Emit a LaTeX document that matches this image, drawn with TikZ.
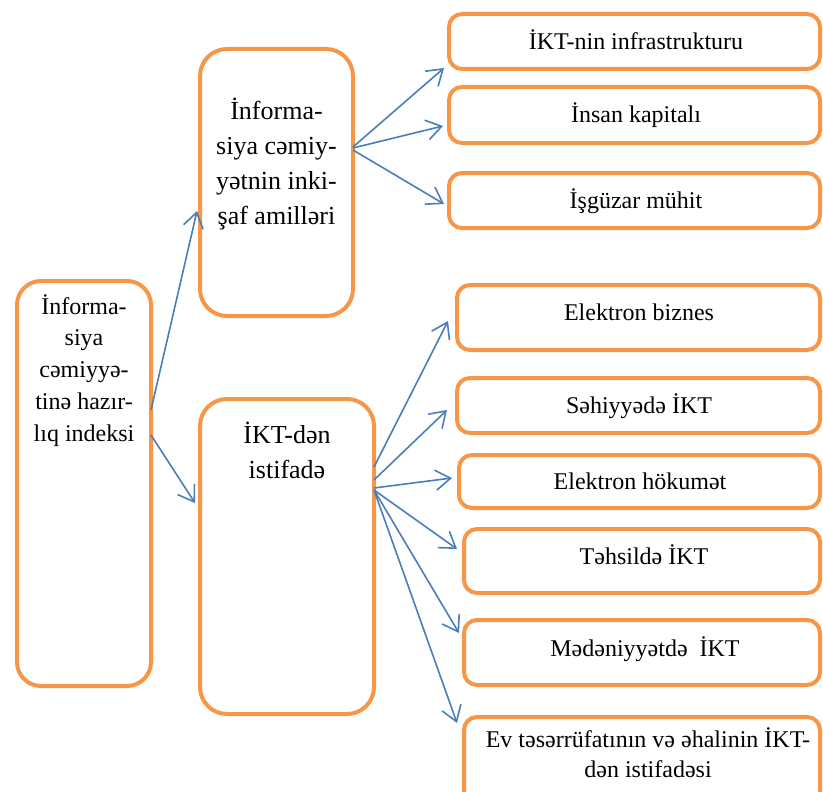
\documentclass[tikz,border=0pt]{standalone}
\usepackage{fontspec}
\setmainfont{Liberation Serif}
\usetikzlibrary{arrows.meta,calc}
\definecolor{boxorange}{HTML}{F79646}
\definecolor{arrowblue}{HTML}{4A7EBB}
\begin{document}
\begin{tikzpicture}[x=1pt,y=-1pt,
  rbox/.style={draw=boxorange, line width=4pt, fill=white, inner sep=0pt, outer sep=0pt},
  lbl/.style={inner sep=0pt, anchor=base, font=\fontsize{24}{28}\selectfont},
  mlbl/.style={inner sep=0pt, anchor=base, font=\fontsize{26}{30}\selectfont},
  conn/.style={draw=arrowblue, line width=1.6pt, -{Straight Barb[length=15pt,width=20pt]}}]
\useasboundingbox (0,0) rectangle (823,792);
\clip (0,0) rectangle (823,792);
% boxes
\node[rbox, rounded corners=24pt, minimum width=134pt, minimum height=405pt] (L) at (84,483.5) {};
\node[rbox, rounded corners=27pt, minimum width=153pt, minimum height=267pt] (B2) at (276.5,182.5) {};
\node[rbox, rounded corners=27pt, minimum width=174pt, minimum height=315pt] (B3) at (287,556.5) {};
\node[rbox, rounded corners=13pt, minimum width=371pt, minimum height=55pt] (A) at (634.5,41.5) {};
\node[rbox, rounded corners=13pt, minimum width=371pt, minimum height=56pt] (B) at (634.5,115) {};
\node[rbox, rounded corners=13pt, minimum width=371pt, minimum height=55pt] (C) at (634.5,200.5) {};
\node[rbox, rounded corners=13pt, minimum width=363pt, minimum height=65pt] (D) at (638.5,317.5) {};
\node[rbox, rounded corners=13pt, minimum width=363pt, minimum height=55pt] (E) at (638.5,405.5) {};
\node[rbox, rounded corners=13pt, minimum width=361pt, minimum height=53pt] (F) at (639.5,481.5) {};
\node[rbox, rounded corners=13pt, minimum width=356pt, minimum height=64pt] (G) at (642,561) {};
\node[rbox, rounded corners=13pt, minimum width=356pt, minimum height=65pt] (H) at (642,652.5) {};
\node[rbox, rounded corners=13pt, minimum width=356pt, minimum height=93pt] (I) at (642,763.5) {};
% texts
\foreach \t [count=\i from 0] in {İnforma-,siya,cəmiyyə-,tinə hazır-,lıq indeksi}
  \node[lbl] (Lt\i) at (84,314+31.8*\i) {\t};
\foreach \t [count=\i from 0] in {İnforma-,siya cəmiy-,yətnin inki-,şaf amilləri}
  \node[mlbl] (B2t\i) at (276.5,119.5+34.9*\i) {\t};
\node[mlbl] (B3t0) at (287,443) {İKT-dən};
\node[mlbl] (B3t1) at (287,478) {istifadə};
\node[lbl] (At) at (636,50) {İKT-nin infrastrukturu};
\node[lbl] (Bt) at (636,123) {İnsan kapitalı};
\node[lbl] (Ct) at (636,208) {İşgüzar mühit};
\node[lbl] (Dt) at (639,320) {Elektron biznes};
\node[lbl] (Et) at (639,413) {Səhiyyədə İKT};
\node[lbl] (Ft) at (640,489) {Elektron hökumət};
\node[lbl] (Gt) at (644,564) {Təhsildə İKT};
\node[lbl] (Ht) at (645,656) {Mədəniyyətdə\ \ İKT};
\node[lbl] (It0) at (648,747) {Ev təsərrüfatının və əhalinin İKT-};
\node[lbl] (It1) at (648,777) {dən istifadəsi};
% connectors
\draw[conn] ($(L.east)+(0,-73.5)$) -- ($(B2.west)+(-3,28.5)$);
\draw[conn] ($(L.east)+(0,-48.5)$) -- ($(B3.west)+(-5,-53.5)$);
\draw[conn] ($(B2.east)+(0,-35.5)$) -- ($(A.south west)+(-5,-1)$);
\draw[conn] ($(B2.east)+(0,-34.5)$) -- ($(B.west)+(-6,11)$);
\draw[conn] ($(B2.east)+(0,-32.5)$) -- ($(C.west)+(-5,3.5)$);
\draw[conn] ($(B3.east)+(0,-89.5)$) -- ($(D.west)+(-9,3.5)$);
\draw[conn] ($(B3.east)+(0,-76.5)$) -- ($(E.west)+(-10,4.5)$);
\draw[conn] ($(B3.east)+(0,-68.5)$) -- ($(F.west)+(-7,-3.5)$);
\draw[conn] ($(B3.east)+(0,-66.5)$) -- ($(G.west)+(-7,-12)$);
\draw[conn] ($(B3.east)+(0,-66.5)$) -- ($(H.west)+(-5,-19.5)$);
\draw[conn] ($(B3.east)+(0,-66.5)$) -- ($(I.west)+(-7,-40.5)$);
\end{tikzpicture}
\end{document}
